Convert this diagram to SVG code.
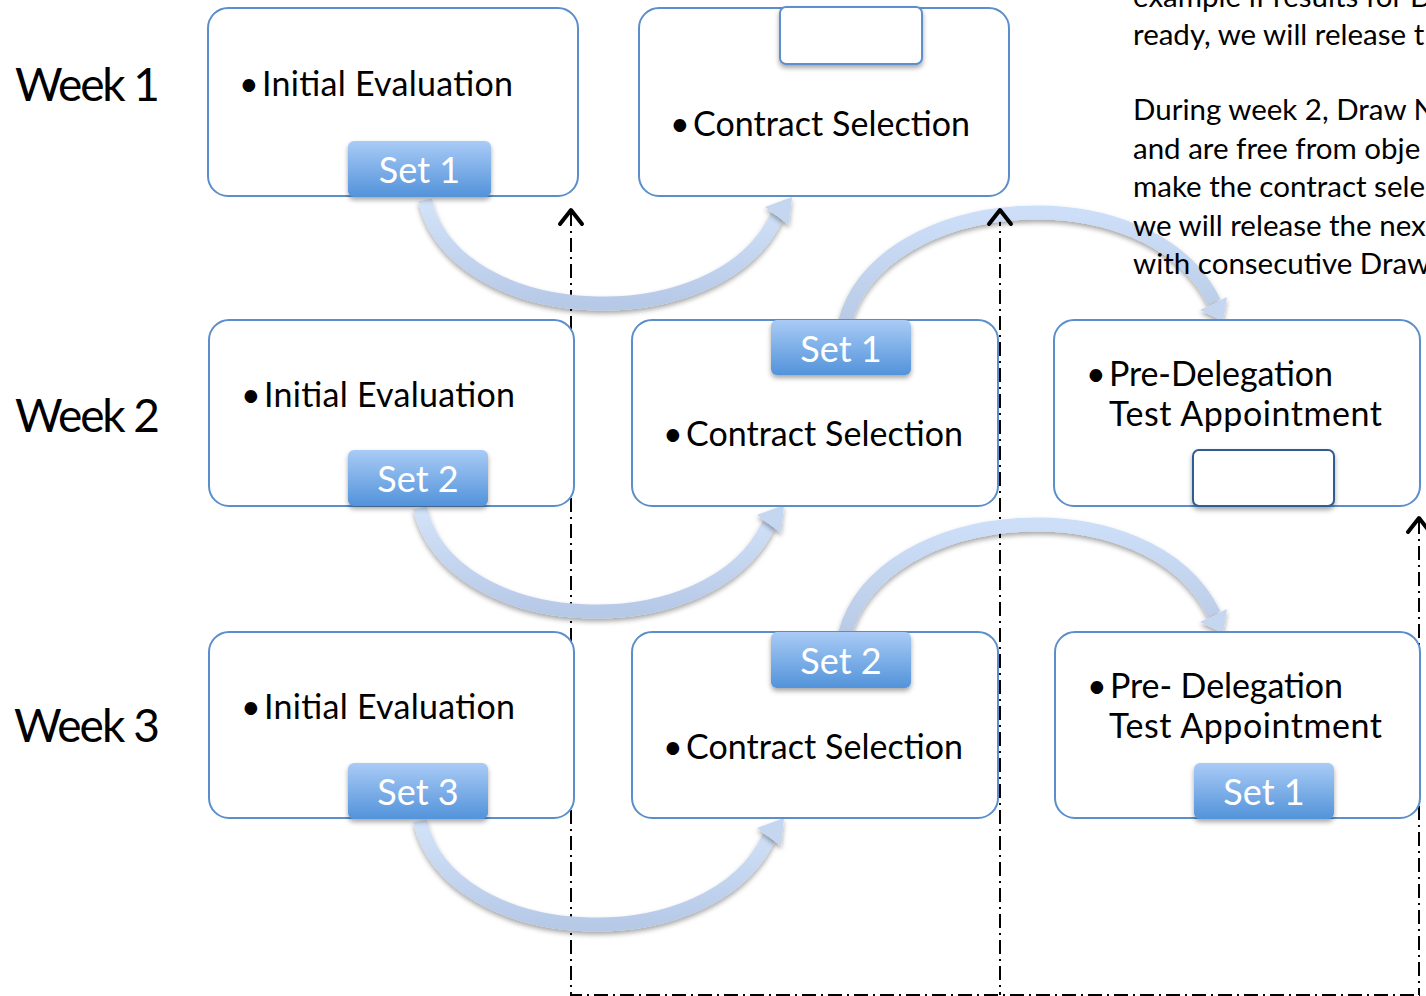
<svg xmlns="http://www.w3.org/2000/svg" width="1426" height="996" viewBox="0 0 1426 996">
<defs>
<linearGradient id="setg" x1="0" y1="0" x2="0" y2="1">
<stop offset="0" stop-color="#a9cbf6"/>
<stop offset="1" stop-color="#5293da"/>
</linearGradient>
<linearGradient id="arcDown" x1="0" y1="0" x2="0" y2="1">
<stop offset="0" stop-color="#d3e3f9"/>
<stop offset="1" stop-color="#b6c9e7"/>
</linearGradient>
<linearGradient id="arcUp" x1="0" y1="0" x2="0" y2="1">
<stop offset="0" stop-color="#cddff8"/>
<stop offset="1" stop-color="#b9cae6"/>
</linearGradient>
<filter id="sh" x="-20%" y="-20%" width="140%" height="150%">
<feDropShadow dx="0" dy="3" stdDeviation="2.5" flood-color="#000" flood-opacity="0.35"/>
</filter>
</defs>
<style>
.box{fill:#fff;stroke:#5b8fcb;stroke-width:2}
.set{fill:url(#setg);filter:url(#sh)}
.empty{fill:#fff;stroke:#5b8fcb;stroke-width:2;filter:url(#sh)}
.empty2{fill:#fff;stroke:#2f5d94;stroke-width:2;filter:url(#sh)}
.t{font-family:Lato,"Open Sans",sans-serif;font-size:34px;fill:#000}
.wk{font-family:Lato,"Open Sans",sans-serif;font-size:46px;fill:#000}
.st{font-family:Lato,"Open Sans",sans-serif;font-size:36px;fill:#fff;text-anchor:middle}
.note{font-family:Lato,"Open Sans",sans-serif;font-size:29.5px;fill:#000}
.arcd{fill:none;stroke:url(#arcDown);stroke-width:14;filter:url(#sh)}
.arcu{fill:none;stroke:url(#arcUp);stroke-width:14;filter:url(#sh)}
.hd{fill:#c4d6f0;filter:url(#sh)}
.dd{fill:none;stroke:#000;stroke-width:2;stroke-dasharray:14 5 2 5}
.chev{fill:none;stroke:#000;stroke-width:4;stroke-linecap:round;stroke-linejoin:round}
</style>

<g id="week-labels">
<text class="wk" x="15" y="101" textLength="145">Week 1</text>
<text class="wk" x="15" y="432" textLength="145">Week 2</text>
<text class="wk" x="14" y="742" textLength="146">Week 3</text>
</g>

<g id="connectors">
<path class="dd" d="M571,212 V995 H1420"/>
<path class="dd" d="M1000,212 V995"/>
<path class="dd" d="M1419,520 V995"/>

<path class="arcd" d="M425,200 C455,330 720,340 777,216"/>
<polygon class="hd" points="792,197 789,225 765,207"/>
<path class="arcd" d="M420,508 C450,638 712,648 769,524"/>
<polygon class="hd" points="784,505 781,533 757,515"/>
<path class="arcd" d="M420,821 C450,951 712,961 769,837"/>
<polygon class="hd" points="784,818 781,846 757,828"/>

<path class="arcu" d="M845,322 C880,190 1150,170 1214,302"/>
<polygon class="hd" points="1223,321 1227,297 1200,310"/>
<path class="arcu" d="M845,634 C880,502 1150,482 1214,614"/>
<polygon class="hd" points="1223,633 1227,609 1200,622"/>

<path class="chev" d="M560,224 L571,210 L582,224"/>
<path class="chev" d="M989,224 L1000,210 L1011,224"/>
<path class="chev" d="M1408,532 L1419,518 L1430,532"/>
</g>

<g id="notes">
<text class="note" x="1133" y="7">example if results for D</text>
<text class="note" x="1133" y="45">ready, we will release t</text>
<text class="note" x="1133" y="120">During week 2, Draw N</text>
<text class="note" x="1133" y="159">and are free from obje</text>
<text class="note" x="1133" y="197">make the contract sele</text>
<text class="note" x="1133" y="236">we will release the nex</text>
<text class="note" x="1133" y="274">with consecutive Draw</text>
</g>

<g id="w1-initial">
<rect class="box" x="208" y="8" width="370" height="188" rx="20"/>
<text class="t" x="239" y="96">•</text>
<text class="t" x="262" y="96" textLength="251">Initial Evaluation</text>
<rect class="set" x="348" y="141" width="143" height="56" rx="6"/>
<text class="st" x="419.5" y="183">Set 1</text>
</g>

<g id="w1-contract">
<rect class="box" x="639" y="8" width="370" height="188" rx="20"/>
<rect class="empty" x="780" y="7" width="142" height="57" rx="6"/>
<text class="t" x="670" y="136">•</text>
<text class="t" x="693" y="136" textLength="277">Contract Selection</text>
</g>

<g id="w2-initial">
<rect class="box" x="209" y="320" width="365" height="186" rx="20"/>
<text class="t" x="241" y="407">•</text>
<text class="t" x="264" y="407" textLength="251">Initial Evaluation</text>
<rect class="set" x="348" y="450" width="140" height="56" rx="6"/>
<text class="st" x="418" y="492">Set 2</text>
</g>

<g id="w2-contract">
<rect class="box" x="632" y="320" width="366" height="186" rx="20"/>
<rect class="set" x="771" y="320" width="140" height="55" rx="6"/>
<text class="st" x="841" y="362">Set 1</text>
<text class="t" x="663" y="446">•</text>
<text class="t" x="686" y="446" textLength="277">Contract Selection</text>
</g>

<g id="w2-predelegation">
<rect class="box" x="1054" y="320" width="366" height="186" rx="20"/>
<text class="t" x="1086" y="386">•</text>
<text class="t" x="1109" y="386" textLength="224">Pre-Delegation</text>
<text class="t" x="1109" y="426" textLength="273">Test Appointment</text>
<rect class="empty2" x="1193" y="450" width="141" height="56" rx="6"/>
</g>

<g id="w3-initial">
<rect class="box" x="209" y="632" width="365" height="186" rx="20"/>
<text class="t" x="241" y="719">•</text>
<text class="t" x="264" y="719" textLength="251">Initial Evaluation</text>
<rect class="set" x="348" y="763" width="140" height="56" rx="6"/>
<text class="st" x="418" y="805">Set 3</text>
</g>

<g id="w3-contract">
<rect class="box" x="632" y="632" width="366" height="186" rx="20"/>
<rect class="set" x="771" y="632" width="140" height="56" rx="6"/>
<text class="st" x="841" y="674">Set 2</text>
<text class="t" x="663" y="759">•</text>
<text class="t" x="686" y="759" textLength="277">Contract Selection</text>
</g>

<g id="w3-predelegation">
<rect class="box" x="1055" y="632" width="365" height="186" rx="20"/>
<text class="t" x="1087" y="698">•</text>
<text class="t" x="1110" y="698" textLength="233">Pre- Delegation</text>
<text class="t" x="1109" y="738" textLength="273">Test Appointment</text>
<rect class="set" x="1194" y="763" width="140" height="56" rx="6"/>
<text class="st" x="1264" y="805">Set 1</text>
</g>
</svg>
